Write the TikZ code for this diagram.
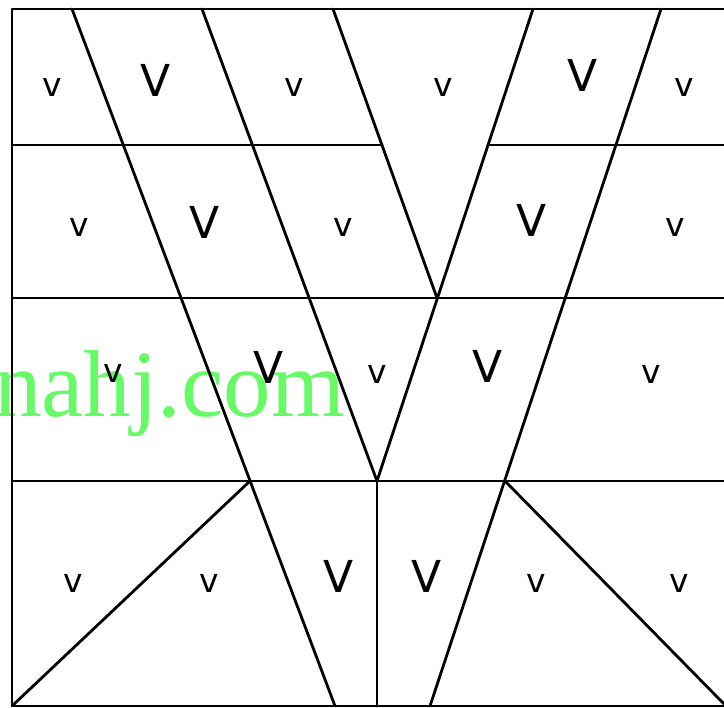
\documentclass[tikz,border=0pt]{standalone}
\usepackage{fontspec}
\newfontfamily\labfont{DejaVu Sans}
\newfontfamily\wmfont{Liberation Serif}
\definecolor{wmgreen}{RGB}{102,250,102}
\tikzset{
  edge/.style={line width=2.8pt, line cap=round, line join=round},
  small/.style={inner sep=0pt, font=\labfont\fontsize{33}{33}\selectfont},
  big/.style={inner sep=0pt, font=\labfont\fontsize{44}{44}\selectfont}
}
\begin{document}
\begin{tikzpicture}[x=1pt,y=-1pt]
\useasboundingbox (0,0) rectangle (724,708);
\fill[white] (0,0) rectangle (724,708);
% watermark
\node[anchor=base west, inner sep=0pt, text=wmgreen, font=\wmfont\fontsize{95}{95}\selectfont] (wm) at (-6,417) {nahj.com};
% key points
\coordinate (TL) at (12,9);
\coordinate (TR) at (724,9);
\coordinate (BL) at (12,706);
\coordinate (BR) at (724,706);
\coordinate (h1l) at (12,145);
\coordinate (h1a) at (382,145);
\coordinate (h1b) at (488,145);
\coordinate (h1r) at (724,145);
\coordinate (h2l) at (12,298);
\coordinate (h2r) at (724,298);
\coordinate (h3l) at (12,481);
\coordinate (h3r) at (724,481);
\coordinate (a0) at (72,9);
\coordinate (a1) at (335,706);
\coordinate (apexL) at (250,481);
\coordinate (b0) at (202,9);
\coordinate (c0) at (333,9);
\coordinate (d0) at (533,9);
\coordinate (e0) at (661,9);
\coordinate (e1) at (430,706);
\coordinate (apexR) at (505,481);
\coordinate (P) at (437,298);
\coordinate (Q) at (377,481);
\coordinate (Qb) at (377,706);
\coordinate (BR2) at (726,706);
% frame
\draw[edge] (TR) -- (TL) -- (BL) -- (BR);
% horizontals
\draw[edge] (h1l) -- (h1a);
\draw[edge] (h1b) -- (h1r);
\draw[edge] (h2l) -- (h2r);
\draw[edge] (h3l) -- (h3r);
% slanted lines
\draw[edge] (a0) -- (a1);
\draw[edge] (b0) -- (Q);
\draw[edge] (c0) -- (P);
\draw[edge] (d0) -- (Q);
\draw[edge] (e0) -- (e1);
\draw[edge] (Q) -- (Qb);
\draw[edge] (BL) -- (apexL);
\draw[edge] (apexR) -- (BR2);
% labels row 1
\node[small] (l11) at (52,87) {v};
\node[big] (l12) at (156,80) {V};
\node[small] (l13) at (294,87) {v};
\node[small] (l14) at (443,87) {v};
\node[big] (l15) at (583,75) {V};
\node[small] (l16) at (684,87) {v};
% row 2
\node[small] (l21) at (79,227) {v};
\node[big] (l22) at (205,222) {V};
\node[small] (l23) at (343,227) {v};
\node[big] (l24) at (532,220) {V};
\node[small] (l25) at (675,227) {v};
% row 3
\node[small] (l31) at (113,373) {v};
\node[big] (l32) at (269,367) {V};
\node[small] (l33) at (377,374) {v};
\node[big] (l34) at (488,366) {V};
\node[small] (l35) at (651,374) {v};
% row 4
\node[small] (l41) at (73,583) {v};
\node[small] (l42) at (209,583) {v};
\node[big] (l43) at (339,576) {V};
\node[big] (l44) at (427,576) {V};
\node[small] (l45) at (536,583) {v};
\node[small] (l46) at (679,583) {v};
\end{tikzpicture}
\end{document}
